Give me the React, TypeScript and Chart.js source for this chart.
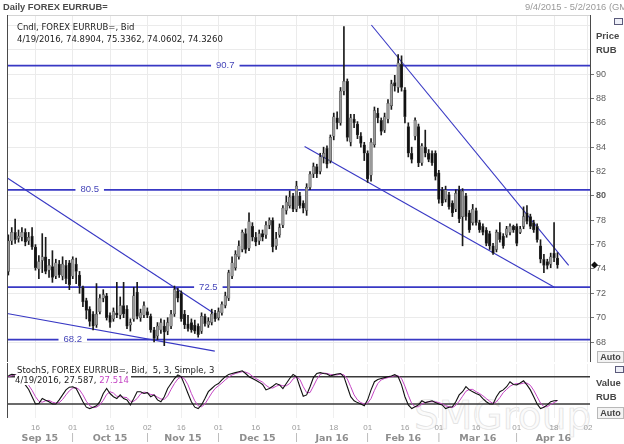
import { useEffect, useRef } from "react";
import { Chart, registerables } from "chart.js";

Chart.register(...registerables);

// weekday sessions on the time axis
const firstSession = "2015-09-04";
const lastSession = "2016-05-02";

const sessions: string[] = [];
for (
  let d = new Date(firstSession + "T00:00:00Z");
  d <= new Date(lastSession + "T00:00:00Z");
  d.setUTCDate(d.getUTCDate() + 1)
) {
  const wd = d.getUTCDay();
  if (wd > 0 && wd < 6) sessions.push(d.toISOString().slice(0, 10));
}
const at = (s: string) => sessions.indexOf(s);

const dayTicks = [
  "2015-09-16", "2015-10-01", "2015-10-16", "2015-11-02", "2015-11-16", "2015-12-01",
  "2015-12-16", "2016-01-01", "2016-01-18", "2016-02-01", "2016-02-16", "2016-03-01",
  "2016-03-16", "2016-04-01", "2016-04-18", "2016-05-02",
];
const monthStarts = ["2015-10-01", "2015-11-02", "2015-12-01", "2016-01-01", "2016-02-01", "2016-03-01", "2016-04-01"];
const monthNames = ["Sep 15", "Oct 15", "Nov 15", "Dec 15", "Jan 16", "Feb 16", "Mar 16", "Apr 16"];

// daily candles, 4 Sep 2015 .. 19 Apr 2016
const opens = [
  73.8, 76.3, 77.0, 76.5, 76.6, 77.0, 76.3, 76.7, 75.8, 74.0,
  74.7, 75.0, 73.9, 74.2, 73.4, 74.4, 73.4, 74.3, 74.5, 73.4,
  74.4, 73.5, 72.5, 71.4, 70.7, 70.3, 69.4, 70.5, 71.6, 71.8,
  70.2, 69.9, 70.4, 70.2, 71.0, 70.7, 69.4, 69.9, 72.1, 70.0,
  70.2, 70.5, 70.1, 69.0, 68.5, 69.0, 69.3, 68.9, 69.3, 70.3,
  72.2, 72.0, 70.3, 69.5, 69.6, 69.4, 69.3, 68.9, 70.1, 69.4,
  69.6, 70.4, 70.0, 70.4, 71.0, 71.6, 73.4, 74.1, 75.0, 75.6,
  76.9, 75.7, 77.5, 76.6, 76.3, 76.9, 76.8, 77.6, 78.0, 75.9,
  76.8, 77.6, 78.8, 79.2, 80.0, 78.9, 80.0, 79.4, 78.8, 80.7,
  81.8, 82.4, 82.0, 83.2, 83.9, 82.9, 84.9, 86.4, 86.0, 88.6,
  89.4, 84.4, 86.3, 85.9, 84.9, 84.2, 83.5, 81.7, 84.2, 86.8,
  86.2, 85.4, 86.3, 87.4, 89.3, 88.9, 90.8, 88.7, 85.7, 83.5,
  84.9, 85.7, 82.7, 84.0, 83.5, 83.5, 83.5, 81.9, 80.5, 79.7,
  80.1, 79.4, 78.9, 80.5, 78.3, 80.0, 78.6, 77.8, 78.8, 77.8,
  77.5, 77.2, 76.9, 75.9, 75.6, 77.0, 76.7, 76.8, 77.0, 77.5,
  77.5, 77.0, 77.5, 78.6, 78.3, 77.8, 77.5, 75.9, 74.8, 74.6,
  74.4, 75.3, 74.8904,
];
const highs = [
  76.8, 77.4, 78.1, 77.2, 77.4, 77.3, 77.0, 77.4, 76.0, 75.1,
  76.9, 76.6, 74.8, 75.5, 74.8, 74.7, 75.0, 74.7, 74.7, 75.0,
  74.9, 73.8, 72.6, 71.6, 70.9, 70.5, 72.8, 71.9, 72.3, 72.0,
  70.4, 70.8, 72.9, 71.7, 72.9, 71.0, 69.9, 72.5, 72.9, 70.7,
  71.3, 70.8, 70.3, 69.2, 69.6, 69.9, 69.8, 70.0, 70.6, 72.6,
  72.4, 72.2, 70.6, 70.2, 69.9, 69.8, 69.5, 70.4, 70.3, 70.0,
  70.7, 70.6, 70.8, 71.3, 72.1, 73.9, 75.0, 75.5, 76.3, 77.2,
  77.3, 78.6, 77.8, 77.0, 77.2, 77.2, 77.9, 78.2, 78.2, 77.0,
  77.7, 79.2, 80.0, 80.4, 80.2, 81.2, 80.3, 79.6, 81.0, 82.0,
  82.7, 82.6, 83.5, 84.0, 84.1, 85.0, 86.8, 86.9, 88.9, 93.9,
  89.6, 86.7, 86.7, 86.1, 85.2, 84.4, 83.7, 84.7, 87.3, 87.2,
  86.4, 86.8, 87.9, 89.5, 89.9, 91.6, 91.5, 88.9, 86.0, 84.0,
  86.4, 85.9, 84.3, 85.4, 83.8, 83.7, 83.7, 82.1, 80.7, 80.8,
  80.3, 79.6, 80.5, 80.8, 80.6, 80.2, 78.8, 79.3, 79.0, 78.0,
  77.7, 77.4, 77.1, 76.1, 77.2, 77.8, 76.9, 77.5, 77.7, 77.6,
  77.7, 77.5, 79.1, 79.2, 78.5, 78.0, 77.7, 76.4, 75.2, 74.8,
  75.3, 77.8, 75.3362,
];
const lows = [
  73.5, 76.0, 76.1, 76.2, 76.3, 75.9, 76.0, 75.6, 73.9, 73.2,
  73.7, 73.6, 73.3, 72.9, 73.2, 73.3, 73.1, 72.8, 72.3, 73.2,
  72.8, 72.0, 70.9, 69.9, 69.3, 69.0, 69.2, 70.3, 71.3, 69.8,
  69.2, 69.7, 70.0, 69.9, 70.0, 69.1, 68.9, 69.7, 69.9, 69.7,
  70.0, 70.0, 68.8, 68.0, 68.2, 68.7, 67.7, 68.6, 69.1, 70.1,
  71.3, 69.7, 69.1, 68.9, 68.8, 68.7, 68.4, 68.7, 69.3, 69.2,
  69.4, 69.7, 69.8, 70.2, 70.8, 71.4, 73.2, 73.9, 74.8, 75.4,
  75.3, 75.5, 76.3, 75.9, 76.0, 76.3, 76.5, 77.3, 75.4, 75.6,
  76.6, 77.4, 78.5, 79.0, 78.7, 78.7, 79.0, 78.6, 78.4, 80.5,
  81.5, 81.5, 81.8, 82.7, 82.3, 82.7, 84.6, 85.5, 85.8, 88.3,
  84.5, 84.1, 85.6, 84.7, 84.0, 82.9, 81.1, 81.2, 84.0, 86.0,
  85.0, 85.2, 86.0, 87.1, 88.6, 88.5, 88.6, 86.0, 83.2, 82.7,
  84.6, 82.4, 82.5, 83.2, 82.8, 82.5, 81.3, 79.4, 79.2, 79.5,
  78.9, 78.3, 78.7, 77.8, 75.9, 78.0, 77.0, 77.6, 77.6, 77.0,
  76.8, 75.9, 75.6, 75.2, 75.4, 76.2, 75.7, 76.6, 76.8, 77.0,
  75.9, 76.9, 77.3, 77.7, 77.3, 77.0, 76.2, 74.5, 73.7, 74.0,
  74.1, 74.6, 74.0602,
];
const closes = [
  76.3, 77.0, 76.4, 76.7, 77.0, 76.2, 76.6, 75.8, 74.1, 74.6,
  75.0, 73.8, 74.3, 73.3, 74.5, 73.5, 74.4, 73.2, 72.7, 74.8,
  73.8, 72.6, 71.3, 70.6, 69.7, 69.3, 70.3, 71.6, 71.9, 70.0,
  69.6, 70.5, 70.2, 71.0, 70.3, 69.3, 69.6, 71.8, 70.1, 70.4,
  71.0, 70.2, 69.0, 68.3, 69.3, 69.6, 68.8, 69.6, 70.3, 72.3,
  71.6, 69.9, 69.4, 69.1, 69.0, 68.9, 68.6, 70.1, 69.5, 69.7,
  70.3, 69.9, 70.5, 71.1, 71.8, 73.7, 74.5, 75.2, 75.9, 77.0,
  75.6, 77.9, 76.6, 76.2, 76.9, 76.6, 77.6, 78.0, 75.8, 76.5,
  77.4, 79.0, 79.5, 79.9, 78.9, 80.8, 79.2, 79.0, 80.7, 81.8,
  82.4, 81.8, 83.2, 83.5, 82.6, 84.8, 86.5, 86.0, 88.6, 89.4,
  84.8, 86.4, 86.0, 85.0, 84.3, 83.5, 81.4, 84.4, 87.0, 86.4,
  85.3, 86.5, 87.6, 89.2, 89.0, 90.9, 88.9, 86.5, 83.5, 83.0,
  86.2, 82.7, 84.1, 83.5, 83.0, 82.7, 81.6, 79.7, 79.4, 80.5,
  79.1, 78.6, 80.2, 78.1, 80.4, 78.3, 77.2, 78.9, 77.8, 77.2,
  77.0, 76.1, 75.9, 75.3, 77.0, 76.4, 75.9, 77.3, 77.5, 77.2,
  76.1, 77.3, 78.3, 77.9, 77.5, 77.2, 76.4, 74.8, 74.3, 74.3,
  75.0, 74.9, 74.326,
];

// slow stochastic (5, 3, 3)
const stochK = [
  82, 85, 84, 78, 70, 62, 52, 36, 20, 21,
  32, 28, 25, 20, 20, 29, 40, 51, 57, 58,
  54, 40, 25, 13, 10, 13, 16, 25, 43, 54,
  43, 36, 32, 40, 32, 29, 18, 32, 47, 47,
  43, 45, 36, 40, 29, 25, 36, 54, 65, 76,
  84, 80, 62, 43, 25, 13, 10, 18, 32, 47,
  54, 61, 65, 73, 80, 85, 87, 89, 91, 93,
  87, 80, 76, 72, 68, 63, 51, 54, 59, 65,
  62, 54, 65, 76, 85, 80, 58, 37, 40, 58,
  78, 87, 89, 87, 86, 81.5, 84, 86, 87, 80,
  58, 36, 27, 23, 20, 16, 29, 51, 69, 74,
  76, 78, 80, 81.5, 84.5, 80, 62, 36, 18, 10,
  14, 18, 27, 23, 25, 27, 23, 20, 18, 10,
  13, 14, 25, 40, 47, 58, 51, 47, 43, 40,
  32, 25, 20, 20, 36, 47, 51, 58, 69, 63,
  62, 66, 71, 62, 51, 36, 20, 10, 13, 18,
  25, 27, 27.587,
];
const stochD = [
  80, 82, 84, 82, 77, 70, 61, 50, 36, 26,
  24, 27, 28, 24, 22, 23, 30, 40, 49, 55,
  56, 51, 40, 26, 16, 12, 13, 18, 28, 41,
  47, 44, 37, 36, 35, 34, 26, 26, 32, 42,
  46, 45, 41, 40, 35, 31, 30, 38, 52, 65,
  75, 80, 75, 62, 43, 27, 16, 14, 20, 32,
  44, 54, 60, 66, 73, 79, 84, 87, 89, 91,
  90, 87, 81, 76, 72, 68, 61, 56, 55, 59,
  62, 60, 60, 65, 75, 80, 74, 58, 45, 45,
  59, 74, 85, 88, 87, 85, 84, 84, 86, 84,
  75, 58, 40, 29, 23, 20, 22, 32, 50, 65,
  73, 76, 78, 80, 82, 82, 76, 59, 39, 21,
  14, 14, 20, 23, 25, 25, 25, 23, 20, 16,
  14, 12, 17, 26, 37, 48, 52, 52, 47, 43,
  38, 32, 26, 21, 25, 34, 45, 52, 59, 63,
  65, 64, 66, 66, 61, 50, 36, 22, 14, 14,
  19, 23, 27.514,
];
const stochBands = [80, 20];

// drawn price levels and trend lines ([session index, price])
const levels = [90.7, 80.5, 72.5, 68.2];
const levelTagAt = ["2015-12-03", "2015-10-08", "2015-11-26", "2015-10-01"];
const trendLines = [
  [[-0.3, 81.47], [60.4, 70.4]],
  [[-0.4, 70.34], [60.9, 67.25]],
  [[87.4, 84.06], [161.1, 72.5]],
  [[107.1, 94.03], [165.3, 74.3]],
];

const X_MIN = -0.4;
const X_MAX = sessions.length - 0.4;
const BLUE = "#3838c4";
const SANS = "'Liberation Sans', Arial, sans-serif";
const TAHOMA = "'DejaVu Sans', Verdana, sans-serif";

const dayTickIdx = dayTicks.map(at);
const monthStartIdx = monthStarts.map(at);

const xAxis = (gridColor: string) => ({
  type: "linear" as const,
  min: X_MIN,
  max: X_MAX,
  offset: false,
  afterBuildTicks: (scale: any) => {
    scale.ticks = dayTickIdx.map((value) => ({ value }));
  },
  ticks: { display: false },
  grid: { color: gridColor, drawTicks: false, offset: false },
  border: { display: false },
});

const pricePlugin = {
  id: "priceDecor",
  afterDatasetsDraw(chart: any) {
    const { ctx, chartArea, scales } = chart;
    const { x, y } = scales;
    ctx.save();
    ctx.font = `9.5px ${SANS}`;
    ctx.textAlign = "center";
    ctx.textBaseline = "middle";
    levels.forEach((v, k) => {
      const label = v.toFixed(1);
      const px = x.getPixelForValue(at(levelTagAt[k]));
      const py = y.getPixelForValue(v);
      const w = ctx.measureText(label).width + 10;
      ctx.fillStyle = "#fff";
      ctx.fillRect(px - w / 2, py - 2, w, 4);
      ctx.fillStyle = "#4545b8";
      ctx.fillText(label, px, py);
    });
    // frame
    ctx.strokeStyle = "#d4d4d4";
    ctx.lineWidth = 1;
    ctx.beginPath();
    ctx.moveTo(chartArea.left, chartArea.top - 0.5);
    ctx.lineTo(chartArea.right, chartArea.top - 0.5);
    ctx.stroke();
    ctx.strokeStyle = "#4a4a4a";
    ctx.beginPath();
    ctx.moveTo(chartArea.left + 0.5, chartArea.top - 1);
    ctx.lineTo(chartArea.left + 0.5, chartArea.bottom);
    ctx.moveTo(chartArea.right + 0.5, chartArea.top - 1);
    ctx.lineTo(chartArea.right + 0.5, chartArea.bottom);
    ctx.stroke();
    // last value marker
    const ly = y.getPixelForValue(closes[closes.length - 1]);
    const lx = chartArea.right + 4.5;
    ctx.fillStyle = "#111";
    ctx.beginPath();
    ctx.moveTo(lx, ly - 3.5);
    ctx.lineTo(lx + 3.5, ly);
    ctx.lineTo(lx, ly + 3.5);
    ctx.lineTo(lx - 3.5, ly);
    ctx.closePath();
    ctx.fill();
    ctx.restore();
  },
};

const stochPlugin = {
  id: "stochDecor",
  afterDraw(chart: any) {
    const { ctx, chartArea, scales } = chart;
    const { x } = scales;
    ctx.save();
    ctx.strokeStyle = "#4a4a4a";
    ctx.lineWidth = 1;
    ctx.beginPath();
    ctx.moveTo(chartArea.left + 0.5, chartArea.top - 1);
    ctx.lineTo(chartArea.left + 0.5, chartArea.bottom);
    ctx.stroke();
    ctx.textAlign = "center";
    ctx.textBaseline = "middle";
    ctx.font = `8px ${SANS}`;
    ctx.fillStyle = "#9c9c9c";
    dayTickIdx.forEach((v, k) => {
      ctx.fillText(dayTicks[k].slice(8), x.getPixelForValue(v), chartArea.bottom + 10);
    });
    const bounds = [X_MIN, ...monthStartIdx, X_MAX];
    ctx.font = `bold 9.5px ${TAHOMA}`;
    ctx.fillStyle = "#8e8e8e";
    monthNames.forEach((m, k) => {
      const a = x.getPixelForValue(bounds[k]);
      const b = x.getPixelForValue(bounds[k + 1]);
      ctx.fillText(m, (a + b) / 2, chartArea.bottom + 21);
    });
    ctx.font = `9px ${SANS}`;
    ctx.fillStyle = "#a8a8a8";
    monthStartIdx.forEach((v) => ctx.fillText("|", x.getPixelForValue(v), chartArea.bottom + 20));
    ctx.restore();
  },
};

const iconStyle = (left: number, top: number) => ({
  position: "absolute" as const,
  left,
  top,
  width: 7,
  height: 5,
  border: "1px solid #5a5a7a",
  background: "#eef0f8",
});

const autoStyle = (top: number) => ({
  position: "absolute" as const,
  left: 597,
  top,
  width: 25,
  height: 10,
  border: "1px solid #b8b8b8",
  background: "#f3f3f3",
  font: `bold 9px ${SANS}`,
  color: "#444",
  lineHeight: "10px",
  textAlign: "center" as const,
});

export default function App() {
  const priceRef = useRef<HTMLCanvasElement>(null);
  const stochRef = useRef<HTMLCanvasElement>(null);

  useEffect(() => {
    document.body.style.margin = "0";

    const upCol = "#9a9a9a";
    const downCol = "#111111";
    const bodyColors = opens.map((o, i) => (closes[i] >= o ? upCol : downCol));

    const price = new Chart(priceRef.current!, {
      type: "bar",
      data: {
        datasets: [
          ...levels.map((v) => ({
            type: "line" as const,
            data: [{ x: X_MIN, y: v }, { x: X_MAX, y: v }],
            borderColor: BLUE,
            borderWidth: 1.8,
            pointRadius: 0,
            order: 3,
          })),
          ...trendLines.map((t) => ({
            type: "line" as const,
            data: t.map(([x, y]) => ({ x, y })),
            borderColor: BLUE,
            borderWidth: 1.1,
            pointRadius: 0,
            order: 3,
          })),
          {
            type: "bar" as const,
            data: highs.map((h, i) => ({ x: i, y: [lows[i], h] })),
            backgroundColor: "#1a1a1a",
            barThickness: 1,
            grouped: false,
            order: 2,
          },
          {
            type: "bar" as const,
            data: opens.map((o, i) => ({ x: i, y: [o, closes[i]] })),
            backgroundColor: bodyColors,
            borderColor: "#454545",
            borderWidth: 0.5,
            borderSkipped: false,
            barThickness: 2.6,
            grouped: false,
            order: 1,
          },
        ] as any,
      },
      options: {
        animation: false,
        responsive: false,
        maintainAspectRatio: false,
        layout: { padding: { left: 7, top: 16, right: 0, bottom: 8 } },
        plugins: { legend: { display: false }, tooltip: { enabled: false } },
        scales: {
          x: xAxis("#ebebeb") as any,
          y: {
            position: "right",
            min: 66.36,
            max: 94.77,
            afterFit: (scale: any) => {
              scale.width = 34;
            },
            ticks: {
              stepSize: 2,
              includeBounds: false,
              padding: 2,
              color: "#5c5c5c",
              font: (c: any) => ({
                size: 9,
                family: SANS,
                weight: c.tick && c.tick.value === 80 ? "bold" : "normal",
              }),
              callback: (v: any) => (v <= 90 ? String(v) : ""),
            },
            grid: {
              color: "#ebebeb",
              tickLength: 4,
              tickColor: (c: any) => (c.tick && c.tick.value > 90 ? "rgba(0,0,0,0)" : "#777"),
            },
            border: { display: false },
          },
        },
      },
      plugins: [pricePlugin],
    });

    const stoch = new Chart(stochRef.current!, {
      type: "line",
      data: {
        datasets: [
          ...stochBands.map((v) => ({
            data: [{ x: X_MIN, y: v }, { x: X_MAX, y: v }],
            borderColor: "#3a3a3a",
            borderWidth: 1.5,
            pointRadius: 0,
            order: 3,
          })),
          {
            data: stochD.map((v, i) => ({ x: i, y: v })),
            borderColor: "#c445c4",
            borderWidth: 1,
            pointRadius: 0,
            order: 2,
          },
          {
            data: stochK.map((v, i) => ({ x: i, y: v })),
            borderColor: "#111",
            borderWidth: 1.1,
            pointRadius: 0,
            order: 1,
          },
        ],
      },
      options: {
        animation: false,
        responsive: false,
        maintainAspectRatio: false,
        layout: { padding: { left: 7, top: 2, right: 0, bottom: 26 } },
        plugins: { legend: { display: false }, tooltip: { enabled: false } },
        scales: {
          x: xAxis("#efefef") as any,
          y: {
            position: "right",
            min: -10.8,
            max: 107.9,
            afterFit: (scale: any) => {
              scale.width = 34;
            },
            ticks: { display: false },
            grid: { display: false },
            border: { display: false },
          },
        },
      },
      plugins: [stochPlugin],
    });

    return () => {
      price.destroy();
      stoch.destroy();
    };
  }, []);

  return (
    <div
      style={{
        position: "relative",
        width: 624,
        height: 444,
        overflow: "hidden",
        background: "#fff",
        fontFamily: TAHOMA,
      }}
    >
      <div
        style={{
          position: "absolute",
          left: 414,
          top: 393,
          font: `39px ${TAHOMA}`,
          color: "#fbfbfb",
          WebkitTextStroke: "0.7px #e0e0e0",
          whiteSpace: "nowrap",
        }}
      >
        SMGroup
      </div>
      <canvas
        ref={priceRef}
        width={624}
        height={370}
        style={{ position: "absolute", left: 0, top: 0, width: 624, height: 370 }}
      />
      <canvas
        ref={stochRef}
        width={624}
        height={82}
        style={{ position: "absolute", left: 0, top: 362, width: 624, height: 82 }}
      />

      <div style={{ position: "absolute", left: 3, top: 1, font: `bold 9.3px ${SANS}`, color: "#4a4a4a", lineHeight: "12px" }}>
        Daily FOREX EURRUB=
      </div>
      <div
        style={{
          position: "absolute",
          left: 525,
          top: 1,
          font: `9.4px ${SANS}`,
          color: "#9a9a9a",
          lineHeight: "12px",
          whiteSpace: "nowrap",
        }}
      >
        9/4/2015 - 5/2/2016 (GMT)
      </div>

      <div style={{ position: "absolute", left: 17, top: 20.5, font: `8.5px ${TAHOMA}`, color: "#222", lineHeight: "12.3px", whiteSpace: "nowrap" }}>
        <div>Cndl, FOREX EURRUB=, Bid</div>
        <div>4/19/2016, 74.8904, 75.3362, 74.0602, 74.3260</div>
      </div>

      <div style={{ position: "absolute", left: 17, top: 364.6, font: `8.5px ${TAHOMA}`, color: "#222", lineHeight: "10.7px", whiteSpace: "nowrap" }}>
        <div>StochS, FOREX EURRUB=, Bid,&nbsp; 5, 3, Simple, 3</div>
        <div style={{ marginLeft: -2 }}>
          <span style={{ background: "#fff", paddingRight: 2 }}>
            4/19/2016, 27.587, <span style={{ color: "#c445c4" }}>27.514</span>
          </span>
        </div>
      </div>

      <div style={iconStyle(614, 18)} />
      <div style={{ position: "absolute", left: 596, top: 29, font: `bold 9.5px ${SANS}`, color: "#474747", lineHeight: "13.5px" }}>
        <div>Price</div>
        <div>RUB</div>
      </div>
      <div style={autoStyle(351)}>Auto</div>

      <div style={iconStyle(615, 366)} />
      <div style={{ position: "absolute", left: 596, top: 376, font: `bold 9.5px ${SANS}`, color: "#474747", lineHeight: "13.5px" }}>
        <div>Value</div>
        <div>RUB</div>
      </div>
      <div style={autoStyle(407)}>Auto</div>
    </div>
  );
}
